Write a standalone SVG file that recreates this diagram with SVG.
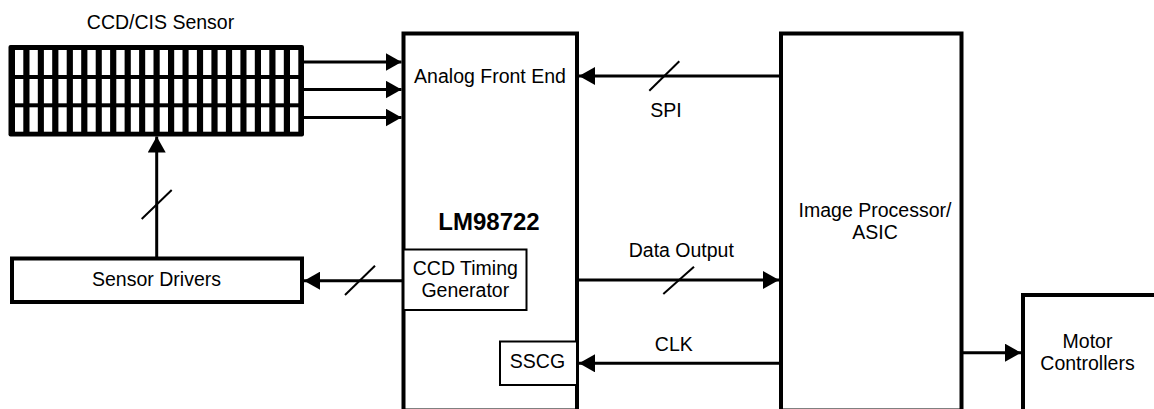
<svg xmlns="http://www.w3.org/2000/svg" width="1154" height="409" viewBox="0 0 1154 409">
<style>
.box{fill:#fff;stroke:#000;stroke-width:4}
.sub{fill:#fff;stroke:#000;stroke-width:2}
.ln{stroke:#000;stroke-width:3;fill:none}
.sl{stroke:#000;stroke-width:2;fill:none}
text{font-family:"Liberation Sans",Arial,sans-serif;font-size:19.5px;fill:#000;text-anchor:middle}
.b{font-weight:bold;font-size:24px}
</style>
<defs>
<marker id="ah" markerUnits="userSpaceOnUse" markerWidth="17" markerHeight="18" refX="16" refY="9" orient="auto">
<path d="M0,0 L16,9 L0,18 z" fill="#000"/>
</marker>
</defs>
<g id="sensor">
<text x="160.5" y="29">CCD/CIS Sensor</text>
<rect x="8.5" y="45" width="295.5" height="91.5" rx="2" fill="#000"/>
<g fill="#fff">
<rect x="15" y="50" width="8.3" height="25"/><rect x="29.5" y="50" width="8.3" height="25"/><rect x="43.9" y="50" width="8.3" height="25"/><rect x="58.4" y="50" width="8.3" height="25"/><rect x="72.9" y="50" width="8.3" height="25"/><rect x="87.4" y="50" width="8.3" height="25"/><rect x="101.8" y="50" width="8.3" height="25"/><rect x="116.3" y="50" width="8.3" height="25"/><rect x="130.8" y="50" width="8.3" height="25"/><rect x="145.2" y="50" width="8.3" height="25"/><rect x="159.7" y="50" width="8.3" height="25"/><rect x="174.2" y="50" width="8.3" height="25"/><rect x="188.6" y="50" width="8.3" height="25"/><rect x="203.1" y="50" width="8.3" height="25"/><rect x="217.6" y="50" width="8.3" height="25"/><rect x="232.1" y="50" width="8.3" height="25"/><rect x="246.5" y="50" width="8.3" height="25"/><rect x="261" y="50" width="8.3" height="25"/><rect x="275.5" y="50" width="8.3" height="25"/><rect x="290" y="50" width="8.3" height="25"/>
<rect x="15" y="79" width="8.3" height="24.3"/><rect x="29.5" y="79" width="8.3" height="24.3"/><rect x="43.9" y="79" width="8.3" height="24.3"/><rect x="58.4" y="79" width="8.3" height="24.3"/><rect x="72.9" y="79" width="8.3" height="24.3"/><rect x="87.4" y="79" width="8.3" height="24.3"/><rect x="101.8" y="79" width="8.3" height="24.3"/><rect x="116.3" y="79" width="8.3" height="24.3"/><rect x="130.8" y="79" width="8.3" height="24.3"/><rect x="145.2" y="79" width="8.3" height="24.3"/><rect x="159.7" y="79" width="8.3" height="24.3"/><rect x="174.2" y="79" width="8.3" height="24.3"/><rect x="188.6" y="79" width="8.3" height="24.3"/><rect x="203.1" y="79" width="8.3" height="24.3"/><rect x="217.6" y="79" width="8.3" height="24.3"/><rect x="232.1" y="79" width="8.3" height="24.3"/><rect x="246.5" y="79" width="8.3" height="24.3"/><rect x="261" y="79" width="8.3" height="24.3"/><rect x="275.5" y="79" width="8.3" height="24.3"/><rect x="290" y="79" width="8.3" height="24.3"/>
<rect x="15" y="107.3" width="8.3" height="24.4"/><rect x="29.5" y="107.3" width="8.3" height="24.4"/><rect x="43.9" y="107.3" width="8.3" height="24.4"/><rect x="58.4" y="107.3" width="8.3" height="24.4"/><rect x="72.9" y="107.3" width="8.3" height="24.4"/><rect x="87.4" y="107.3" width="8.3" height="24.4"/><rect x="101.8" y="107.3" width="8.3" height="24.4"/><rect x="116.3" y="107.3" width="8.3" height="24.4"/><rect x="130.8" y="107.3" width="8.3" height="24.4"/><rect x="145.2" y="107.3" width="8.3" height="24.4"/><rect x="159.7" y="107.3" width="8.3" height="24.4"/><rect x="174.2" y="107.3" width="8.3" height="24.4"/><rect x="188.6" y="107.3" width="8.3" height="24.4"/><rect x="203.1" y="107.3" width="8.3" height="24.4"/><rect x="217.6" y="107.3" width="8.3" height="24.4"/><rect x="232.1" y="107.3" width="8.3" height="24.4"/><rect x="246.5" y="107.3" width="8.3" height="24.4"/><rect x="261" y="107.3" width="8.3" height="24.4"/><rect x="275.5" y="107.3" width="8.3" height="24.4"/><rect x="290" y="107.3" width="8.3" height="24.4"/>
</g>
</g>
<g id="sensor-drivers">
<rect class="box" x="12" y="258.5" width="290" height="43.5"/>
<text x="156.5" y="286">Sensor Drivers</text>
</g>
<g id="lm98722">
<rect class="box" x="403.5" y="33.5" width="173.5" height="377"/>
<text x="490" y="83">Analog Front End</text>
<text class="b" x="489" y="230">LM98722</text>
</g>
<g id="ccd-timing">
<rect class="sub" x="403.5" y="249.5" width="123" height="60.5"/>
<text x="465.3" y="275">CCD Timing</text>
<text x="465.3" y="296.7">Generator</text>
</g>
<g id="sscg">
<rect class="sub" x="500" y="341.5" width="77" height="43.5"/>
<text x="537.5" y="368.3">SSCG</text>
</g>
<g id="image-processor">
<rect class="box" x="781" y="33.5" width="180.5" height="377"/>
<text x="875" y="217">Image Processor/</text>
<text x="875" y="238.5">ASIC</text>
</g>
<g id="motor">
<rect class="box" x="1023" y="295" width="150" height="120"/>
<text x="1087.5" y="348.3">Motor</text>
<text x="1087.5" y="370">Controllers</text>
</g>
<g id="connectors">
<line class="ln" x1="304" y1="62" x2="401.5" y2="62" marker-end="url(#ah)"/>
<line class="ln" x1="304" y1="89.5" x2="401.5" y2="89.5" marker-end="url(#ah)"/>
<line class="ln" x1="304" y1="117.5" x2="401.5" y2="117.5" marker-end="url(#ah)"/>
<line class="ln" x1="156.7" y1="257" x2="156.7" y2="136.5" marker-end="url(#ah)"/>
<line class="sl" x1="141.7" y1="219" x2="171.7" y2="190"/>
<line class="ln" x1="403" y1="280.7" x2="304" y2="280.7" marker-end="url(#ah)"/>
<line class="sl" x1="345" y1="295" x2="375" y2="265.7"/>
<line class="ln" x1="780" y1="76" x2="579" y2="76" marker-end="url(#ah)"/>
<line class="sl" x1="649.3" y1="90.7" x2="679.3" y2="61.3"/>
<text x="666" y="116.7">SPI</text>
<line class="ln" x1="578" y1="280" x2="779" y2="280" marker-end="url(#ah)"/>
<line class="sl" x1="663.3" y1="294" x2="694" y2="266.7"/>
<text x="681.3" y="256.7">Data Output</text>
<line class="ln" x1="780" y1="363.3" x2="579" y2="363.3" marker-end="url(#ah)"/>
<text x="673.8" y="350.7">CLK</text>
<line class="ln" x1="963" y1="352.7" x2="1021" y2="352.7" marker-end="url(#ah)"/>
</g>
</svg>
